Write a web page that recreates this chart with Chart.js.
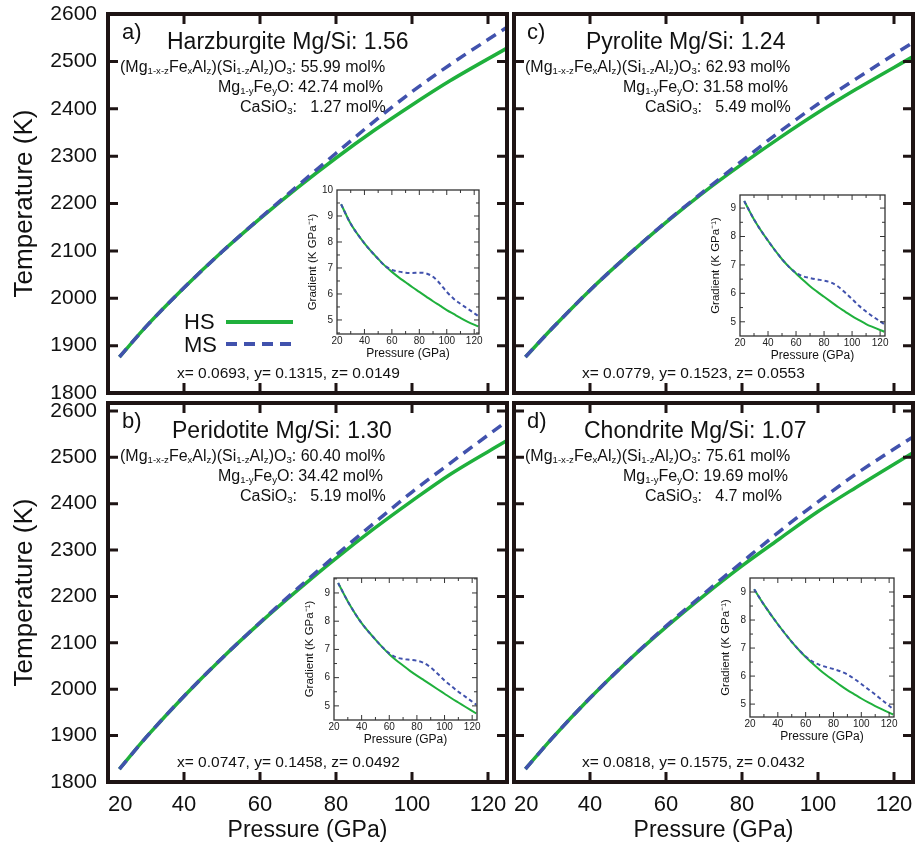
<!DOCTYPE html>
<html>
<head>
<meta charset="utf-8">
<script src="https://cdn.jsdelivr.net/npm/chart.js@4.4.0/dist/chart.umd.min.js"></script>
<style>
  body { margin: 0; background: #fff; }
  #fig { position: relative; width: 918px; height: 848px; overflow: hidden;
         font-family: 'Liberation Sans', Arial, sans-serif; color: #111; }
  #fig canvas, #fig svg { position: absolute; }
  .t { position: absolute; white-space: nowrap; line-height: 1; transform: translateY(-50%); }
  .t sub { font-size: 0.6em; vertical-align: baseline; position: relative; top: 0.18em; }
  .lbl { font-size: 22px; }
  .ttl { font-size: 23px; }
  .cmp { font-size: 16px; }
  .xyz { font-size: 15.5px; }
</style>
</head>
<body>
<div id="fig"></div>
<script>
// main curves: temperature (K) against pressure (GPa)
const pressure = [23, 30, 40, 50, 60, 70, 80, 90, 100, 110, 125];
const hsA = [1876, 1940, 2022, 2098, 2168, 2234, 2296, 2354, 2408, 2459, 2528];
const msA = [1876, 1940, 2022, 2098, 2169, 2238, 2306, 2373, 2436, 2493, 2572];
const hsB = [1828, 1896, 1985, 2067, 2143, 2214, 2282, 2346, 2406, 2463, 2536];
const msB = [1828, 1896, 1985, 2067, 2144, 2218, 2289, 2358, 2425, 2487, 2578];
const hsC = [1876, 1936, 2017, 2091, 2160, 2224, 2283, 2339, 2392, 2441, 2510];
const msC = [1876, 1936, 2017, 2091, 2161, 2226, 2290, 2352, 2410, 2463, 2540];
const hsD = [1828, 1894, 1981, 2061, 2134, 2202, 2266, 2325, 2383, 2435, 2510];
const msD = [1828, 1894, 1981, 2061, 2136, 2206, 2274, 2341, 2404, 2464, 2544];

// insets: gradient (K/GPa) against pressure
const gradP = [23, 30, 40, 50, 55, 60, 65, 70, 75, 80, 85, 90, 95, 100, 105, 110, 115, 123];
const gHsA = [9.45, 8.7, 7.95, 7.35, 7.08, 6.85, 6.64, 6.45, 6.26, 6.08, 5.9, 5.72, 5.55, 5.38, 5.23, 5.08, 4.94, 4.75];
const gMsA = [9.45, 8.7, 7.95, 7.35, 7.08, 6.93, 6.86, 6.82, 6.81, 6.82, 6.79, 6.66, 6.40, 6.08, 5.82, 5.62, 5.44, 5.15];
const gHsB = [9.35, 8.7, 7.93, 7.35, 7.08, 6.83, 6.62, 6.43, 6.24, 6.07, 5.91, 5.75, 5.59, 5.43, 5.27, 5.12, 4.97, 4.73];
const gMsB = [9.35, 8.7, 7.93, 7.35, 7.08, 6.86, 6.72, 6.66, 6.63, 6.6, 6.52, 6.36, 6.14, 5.9, 5.7, 5.5, 5.33, 5.04];
const gHsC = [9.25, 8.6, 7.85, 7.2, 6.93, 6.7, 6.47, 6.25, 6.06, 5.88, 5.7, 5.52, 5.36, 5.2, 5.06, 4.92, 4.81, 4.65];
const gMsC = [9.25, 8.6, 7.85, 7.2, 6.93, 6.72, 6.6, 6.54, 6.49, 6.45, 6.38, 6.24, 6.03, 5.8, 5.56, 5.36, 5.18, 4.92];
const gHsD = [9.1, 8.55, 7.85, 7.22, 6.94, 6.68, 6.45, 6.23, 6.03, 5.85, 5.67, 5.5, 5.35, 5.2, 5.06, 4.93, 4.81, 4.63];
const gMsD = [9.1, 8.55, 7.85, 7.22, 6.94, 6.7, 6.52, 6.4, 6.32, 6.25, 6.17, 6.06, 5.9, 5.72, 5.53, 5.34, 5.14, 4.82];

// tick labels (125 is the unlabeled right edge)
const xTicks = [20, 40, 60, 80, 100, 120, 125];
const yTicks = [1800, 1900, 2000, 2100, 2200, 2300, 2400, 2500, 2600];
const gxTicks = [20, 40, 60, 80, 100, 120];
const gxMinor = [30, 50, 70, 90, 110];
const gyTicksA = [5, 6, 7, 8, 9, 10];
const gyTicks = [5, 6, 7, 8, 9];
const gyMinor = [4.5, 5.5, 6.5, 7.5, 8.5, 9.5];

const GREEN = '#1fb03c';
const BLUE = '#4152ad';
const INK = '#1e1414';
const fig = document.getElementById('fig');

const pts = (xs, ys) => xs.map((x, i) => ({ x: x, y: ys[i] }));
const noPad = s => { s.paddingTop = 0; s.paddingBottom = 0; s.paddingLeft = 0; s.paddingRight = 0; };

// border box plus inward ticks on all four sides
const frame = {
  id: 'frame',
  beforeDraw(chart, args, o) {
    if (!o.bg) return;
    const a = chart.chartArea;
    chart.ctx.save();
    chart.ctx.fillStyle = o.bg;
    chart.ctx.fillRect(a.left, a.top, a.width, a.height);
    chart.ctx.restore();
  },
  afterDraw(chart, args, o) {
    const { ctx, chartArea: a, scales: { x, y } } = chart;
    const inside = (s, v) => v > s.min && v < s.max;
    const tickSet = (xs, ys, len) => {
      ctx.beginPath();
      xs.filter(v => inside(x, v)).forEach(v => {
        const px = x.getPixelForValue(v);
        ctx.moveTo(px, a.bottom); ctx.lineTo(px, a.bottom - len);
        ctx.moveTo(px, a.top); ctx.lineTo(px, a.top + len);
      });
      ys.filter(v => inside(y, v)).forEach(v => {
        const py = y.getPixelForValue(v);
        ctx.moveTo(a.left, py); ctx.lineTo(a.left + len, py);
        ctx.moveTo(a.right, py); ctx.lineTo(a.right - len, py);
      });
      ctx.stroke();
    };
    ctx.save();
    ctx.strokeStyle = o.color;
    ctx.lineWidth = o.tickWidth;
    tickSet(x.ticks.map(t => t.value), y.ticks.map(t => t.value), o.len);
    if (o.minorX) tickSet(o.minorX, o.minorY, o.minorLen);
    ctx.lineWidth = o.width;
    ctx.strokeRect(a.left, a.top, a.width, a.height);
    ctx.restore();
  }
};

function addCanvas(left, top, w, h) {
  const c = document.createElement('canvas');
  c.width = w; c.height = h;
  c.style.left = left + 'px'; c.style.top = top + 'px';
  c.style.width = w + 'px'; c.style.height = h + 'px';
  fig.appendChild(c);
  return c;
}

function mainPanel(p) {
  const b = p.box;
  const yw = p.yLab ? 108 : 6;
  const xh = p.xLab ? 848 - b.b : 6;
  const left = b.l - yw, top = b.t - 14;
  const c = addCanvas(left, top, b.r + 4 - left, b.b + xh - top);
  new Chart(c, {
    type: 'line',
    data: {
      datasets: [
        { label: 'MS', data: pts(pressure, p.ms), borderColor: BLUE, borderWidth: 3.5,
          borderDash: [11, 7], pointRadius: 0, cubicInterpolationMode: 'monotone', fill: false },
        { label: 'HS', data: pts(pressure, p.hs), borderColor: GREEN, borderWidth: 3.5,
          pointRadius: 0, cubicInterpolationMode: 'monotone', fill: false }
      ]
    },
    options: {
      responsive: false, animation: false, events: [],
      layout: { padding: { top: 14, right: 4, left: 0, bottom: 0 } },
      plugins: {
        legend: { display: false }, tooltip: { enabled: false },
        frame: { color: INK, width: 4, tickWidth: 3, len: 10 }
      },
      scales: {
        x: {
          type: 'linear', min: 20, max: 125,
          afterBuildTicks: s => { s.ticks = xTicks.map(v => ({ value: v })); },
          afterFit: s => { s.height = xh; noPad(s); },
          grid: { display: false, drawTicks: false }, border: { display: false },
          ticks: { display: p.xLab, padding: 10, color: '#111', maxRotation: 0, autoSkip: false,
                   align: 'inner', callback: v => (v > 120 ? '' : String(v)),
                   font: { family: "'Liberation Sans Narrow', 'Liberation Sans', Arial", size: 22 } },
          title: { display: p.xLab, text: 'Pressure (GPa)', color: '#111',
                   font: { family: "'Liberation Sans', Arial", size: 23 }, padding: { top: 0, bottom: 4 } }
        },
        y: {
          type: 'linear', min: 1800, max: p.yMax,
          afterBuildTicks: s => { s.ticks = yTicks.map(v => ({ value: v })); },
          afterFit: s => { s.width = yw; noPad(s); },
          grid: { display: false, drawTicks: false }, border: { display: false },
          ticks: { display: p.yLab, padding: 11, color: '#111', callback: v => String(v),
                   font: { family: "'Liberation Sans', Arial", size: 21 } },
          title: { display: p.yLab, text: 'Temperature (K)', color: '#111',
                   font: { family: "'Liberation Sans', Arial", size: 26 }, padding: { top: 9 } }
        }
      }
    },
    plugins: [frame]
  });
}

function insetPanel(q) {
  const yw = 36, xh = 28;
  const left = q.l - yw, top = q.t - 6;
  const c = addCanvas(left, top, q.r + 4 - left, q.b + xh - top);
  new Chart(c, {
    type: 'line',
    data: {
      datasets: [
        { label: 'MS', data: pts(gradP, q.ms), borderColor: BLUE, borderWidth: 2,
          borderDash: [4, 3], pointRadius: 0, cubicInterpolationMode: 'monotone', fill: false },
        { label: 'HS', data: pts(gradP, q.hs), borderColor: GREEN, borderWidth: 2,
          pointRadius: 0, cubicInterpolationMode: 'monotone', fill: false }
      ]
    },
    options: {
      responsive: false, animation: false, events: [],
      layout: { padding: { top: 6, right: 4, left: 0, bottom: 0 } },
      plugins: {
        legend: { display: false }, tooltip: { enabled: false },
        frame: { color: '#333', width: 1.3, tickWidth: 1, len: 5, minorLen: 3,
                 minorX: gxMinor, minorY: gyMinor, bg: '#fff' }
      },
      scales: {
        x: {
          type: 'linear', min: 20, max: 123.5,
          afterBuildTicks: s => { s.ticks = gxTicks.map(v => ({ value: v })); },
          afterFit: s => { s.height = xh; noPad(s); },
          grid: { display: false, drawTicks: false }, border: { display: false },
          ticks: { padding: 1, color: '#222', maxRotation: 0, autoSkip: false,
                   font: { family: "'Liberation Sans', Arial", size: 10 } },
          title: { display: true, text: 'Pressure (GPa)', color: '#111',
                   font: { family: "'Liberation Sans', Arial", size: 12 }, padding: { top: 0, bottom: 1 } }
        },
        y: {
          type: 'linear', min: q.yMin, max: q.yMax,
          afterBuildTicks: s => { s.ticks = q.yt.map(v => ({ value: v })); },
          afterFit: s => { s.width = yw; noPad(s); },
          grid: { display: false, drawTicks: false }, border: { display: false },
          ticks: { padding: 4, color: '#222', font: { family: "'Liberation Sans', Arial", size: 10 } },
          title: { display: true, text: 'Gradient (K GPa\u207B\u00B9)', color: '#111',
                   font: { family: "'Liberation Sans', Arial", size: 11.5 }, padding: { top: 5 } }
        }
      }
    },
    plugins: [frame]
  });
}

const panels = [
  { box: { l: 108, t: 14, r: 507, b: 393 }, yMax: 2600, yLab: true, xLab: false, hs: hsA, ms: msA,
    inset: { l: 337, t: 190, r: 479, b: 334, yMin: 4.46, yMax: 10, yt: gyTicksA, hs: gHsA, ms: gMsA } },
  { box: { l: 514, t: 14, r: 913, b: 393 }, yMax: 2600, yLab: false, xLab: false, hs: hsC, ms: msC,
    inset: { l: 740, t: 195, r: 885, b: 336, yMin: 4.5, yMax: 9.46, yt: gyTicks, hs: gHsC, ms: gMsC } },
  { box: { l: 108, t: 403, r: 507, b: 782 }, yMax: 2617, yLab: true, xLab: true, hs: hsB, ms: msB,
    inset: { l: 334, t: 578, r: 477, b: 720, yMin: 4.5, yMax: 9.53, yt: gyTicks, hs: gHsB, ms: gMsB } },
  { box: { l: 514, t: 403, r: 913, b: 782 }, yMax: 2617, yLab: false, xLab: true, hs: hsD, ms: msD,
    inset: { l: 750, t: 578, r: 894, b: 717, yMin: 4.54, yMax: 9.5, yt: gyTicks, hs: gHsD, ms: gMsD } }
];
panels.forEach(p => { mainPanel(p); insetPanel(p.inset); });

// annotations
const perov = '(Mg<sub>1-x-z</sub>Fe<sub>x</sub>Al<sub>z</sub>)(Si<sub>1-z</sub>Al<sub>z</sub>)O<sub>3</sub>: ';
const ferro = 'Mg<sub>1-y</sub>Fe<sub>y</sub>O: ';
const capv = 'CaSiO<sub>3</sub>:&nbsp;&nbsp;&nbsp;';
function txt(html, cls, x, y) {
  const d = document.createElement('div');
  d.className = 't ' + cls;
  d.innerHTML = html;
  d.style.left = x + 'px'; d.style.top = y + 'px';
  fig.appendChild(d);
}
const notes = [
  { dx: 0, dy: 0, tag: 'a)', name: 'Harzburgite Mg/Si: 1.56', nx: 167, m: ['55.99', '42.74', '1.27'],
    xyz: 'x= 0.0693, y= 0.1315, z= 0.0149' },
  { dx: 405, dy: 0, tag: 'c)', name: 'Pyrolite Mg/Si: 1.24', nx: 586, m: ['62.93', '31.58', '5.49'],
    xyz: 'x= 0.0779, y= 0.1523, z= 0.0553' },
  { dx: 0, dy: 389, tag: 'b)', name: 'Peridotite Mg/Si: 1.30', nx: 172, m: ['60.40', '34.42', '5.19'],
    xyz: 'x= 0.0747, y= 0.1458, z= 0.0492' },
  { dx: 405, dy: 389, tag: 'd)', name: 'Chondrite Mg/Si: 1.07', nx: 584, m: ['75.61', '19.69', '4.7'],
    xyz: 'x= 0.0818, y= 0.1575, z= 0.0432' }
];
notes.forEach(n => {
  txt(n.tag, 'lbl', 122 + n.dx, 32 + n.dy);
  txt(n.name, 'ttl', n.nx, 41 + n.dy);
  txt(perov + n.m[0] + ' mol%', 'cmp', 120 + n.dx, 67 + n.dy);
  txt(ferro + n.m[1] + ' mol%', 'cmp', 218 + n.dx, 87 + n.dy);
  txt(capv + n.m[2] + ' mol%', 'cmp', 240 + n.dx, 107 + n.dy);
  txt(n.xyz, 'xyz', 177 + n.dx, 373 + n.dy);
});

// legend (panel a)
txt('HS', 'lbl', 184, 322);
txt('MS', 'lbl', 184, 345);
const svgNS = 'http://www.w3.org/2000/svg';
const svg = document.createElementNS(svgNS, 'svg');
svg.setAttribute('width', 918); svg.setAttribute('height', 848);
svg.style.left = '0px'; svg.style.top = '0px';
[[GREEN, 322, null], [BLUE, 344, '11 7']].forEach(([col, yy, dash]) => {
  const l = document.createElementNS(svgNS, 'line');
  l.setAttribute('x1', 226); l.setAttribute('x2', 293);
  l.setAttribute('y1', yy); l.setAttribute('y2', yy);
  l.setAttribute('stroke', col); l.setAttribute('stroke-width', 4);
  if (dash) l.setAttribute('stroke-dasharray', dash);
  svg.appendChild(l);
});
fig.appendChild(svg);
</script>
</body>
</html>
